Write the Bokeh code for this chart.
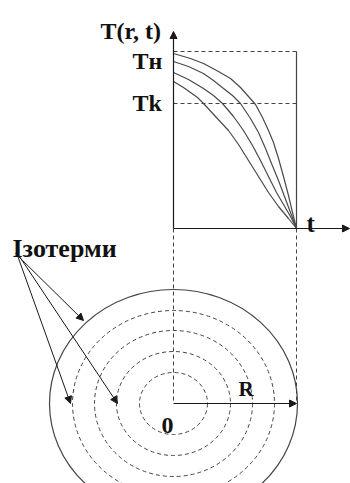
from bokeh.plotting import figure
from bokeh.models import Range1d, Arrow, NormalHead, ColumnDataSource
from bokeh.embed import file_html
from bokeh.resources import INLINE
from bokeh.core.properties import value

# ---- data (diagram coordinates, y grows downward) ----
# temperature curves T(r,t) for several radii
curve1_x = [173, 190, 203, 218, 230, 240, 248, 255, 262, 268, 273, 278, 283, 288, 292, 296]
curve1_y = [53, 58, 63, 71, 78, 87, 96, 104, 117, 130, 142, 158, 176, 195, 212, 228]
curve2_x = [173, 188, 203, 213, 223, 232, 240, 250, 258, 265, 271, 278, 284, 290, 296]
curve2_y = [61, 66, 73, 80, 88, 95, 103, 118, 132, 148, 163, 180, 196, 212, 228]
curve3_x = [173, 188, 203, 213, 222, 233, 243, 252, 260, 268, 276, 283, 290, 296]
curve3_y = [72, 79, 88, 95, 103, 116, 130, 145, 160, 176, 192, 204, 216, 228]
curve4_x = [173, 183, 190, 197, 203, 215, 228, 238, 248, 258, 268, 278, 288, 296]
curve4_y = [81, 87, 92, 97, 103, 116, 130, 144, 160, 176, 192, 206, 218, 228]

t0_x = 173          # T axis position
t_end_x = 296       # end time
t_axis_y = 228      # t axis level
T_top_y = 31
t_arrow_x = 349
Tn_y = 51           # level T_н
Tk_y = 103          # level T_k

center_x, center_y = 173, 403
outer_rx, outer_ry = 124, 114
iso_rx = [34, 57, 79, 101]
iso_ry = [31, 52, 73, 93]

label_origin_x = [15, 17, 19]
label_origin_y = [253, 255, 256]
label_target_x = [83, 70, 117]
label_target_y = [320, 403, 403]

INK = "#1a1a1a"
GRAY = "#444444"
FONT = value("Liberation Serif")

p = figure(width=350, height=483, x_range=Range1d(0, 350), y_range=Range1d(483, 0),
           output_backend="svg", toolbar_location=None, min_border=0,
           min_border_left=0, min_border_right=0, min_border_top=0, min_border_bottom=0)
p.xaxis.visible = False
p.yaxis.visible = False
p.xgrid.visible = False
p.ygrid.visible = False
p.outline_line_color = None
p.background_fill_color = "white"

# axes with arrows
p.add_layout(Arrow(end=NormalHead(size=7, fill_color=INK, line_color=INK),
                   x_start=t0_x, y_start=t_axis_y, x_end=t0_x, y_end=T_top_y,
                   line_color=INK, line_width=1.2))
p.add_layout(Arrow(end=NormalHead(size=7, fill_color=INK, line_color=INK),
                   x_start=t0_x, y_start=t_axis_y, x_end=t_arrow_x, y_end=t_axis_y,
                   line_color=INK, line_width=1.2))

# right border line and dashed levels
p.line([t_end_x, t_end_x], [Tn_y, t_axis_y], line_color=GRAY, line_width=1.2)
p.line([t0_x, t_end_x], [Tn_y, Tn_y], line_color=GRAY, line_width=1, line_dash="4 3")
p.line([t0_x, t_end_x], [Tk_y, Tk_y], line_color=GRAY, line_width=1, line_dash="4 3")

# curves
for cx, cy in [(curve1_x, curve1_y), (curve2_x, curve2_y), (curve3_x, curve3_y), (curve4_x, curve4_y)]:
    p.line(cx, cy, line_color="#4a4a4a", line_width=1.2)

# dashed projection lines
p.line([t0_x, t0_x], [t_axis_y, center_y], line_color=GRAY, line_width=1, line_dash="4 3")
p.line([t_end_x, t_end_x], [t_axis_y, center_y], line_color=GRAY, line_width=1, line_dash="4 3")

# cylinder cross-section
p.ellipse(x=center_x, y=center_y, width=2 * outer_rx, height=2 * outer_ry,
          fill_color=None, line_color=GRAY, line_width=1.2)
p.ellipse(x=[center_x] * len(iso_rx), y=[center_y] * len(iso_rx),
          width=[2 * r for r in iso_rx], height=[2 * r for r in iso_ry],
          fill_color=None, line_color=GRAY, line_width=1, line_dash="4 3")

# radius arrow
p.add_layout(Arrow(end=NormalHead(size=7, fill_color=INK, line_color=INK),
                   x_start=center_x, y_start=center_y, x_end=t_end_x, y_end=center_y,
                   line_color=INK, line_width=1.2))

# isotherm label arrows
src = ColumnDataSource(dict(x0=label_origin_x, y0=label_origin_y,
                            x1=label_target_x, y1=label_target_y))
p.add_layout(Arrow(end=NormalHead(size=7, fill_color=INK, line_color=INK),
                   x_start="x0", y_start="y0", x_end="x1", y_end="y1",
                   source=src, line_color=INK, line_width=1))

# texts
labels = [
    ("T(r, t)", 100, 30, "24px"),
    ("Tн", 132, 60, "24px"),
    ("Tk", 132, 102, "24px"),
    ("t", 306, 223, "25px"),
    ("Ізотерми", 12, 248, "26px"),
    ("R", 238, 388, "21px"),
    ("0", 161, 425, "24px"),
]
for txt, x, y, size in labels:
    p.text(x=[x], y=[y], text=[txt], text_font=FONT, text_font_style="bold",
           text_font_size=size, text_color="#111111", text_baseline="alphabetic",
           text_align="left")

open("out.html", "w").write(file_html(p, INLINE))
